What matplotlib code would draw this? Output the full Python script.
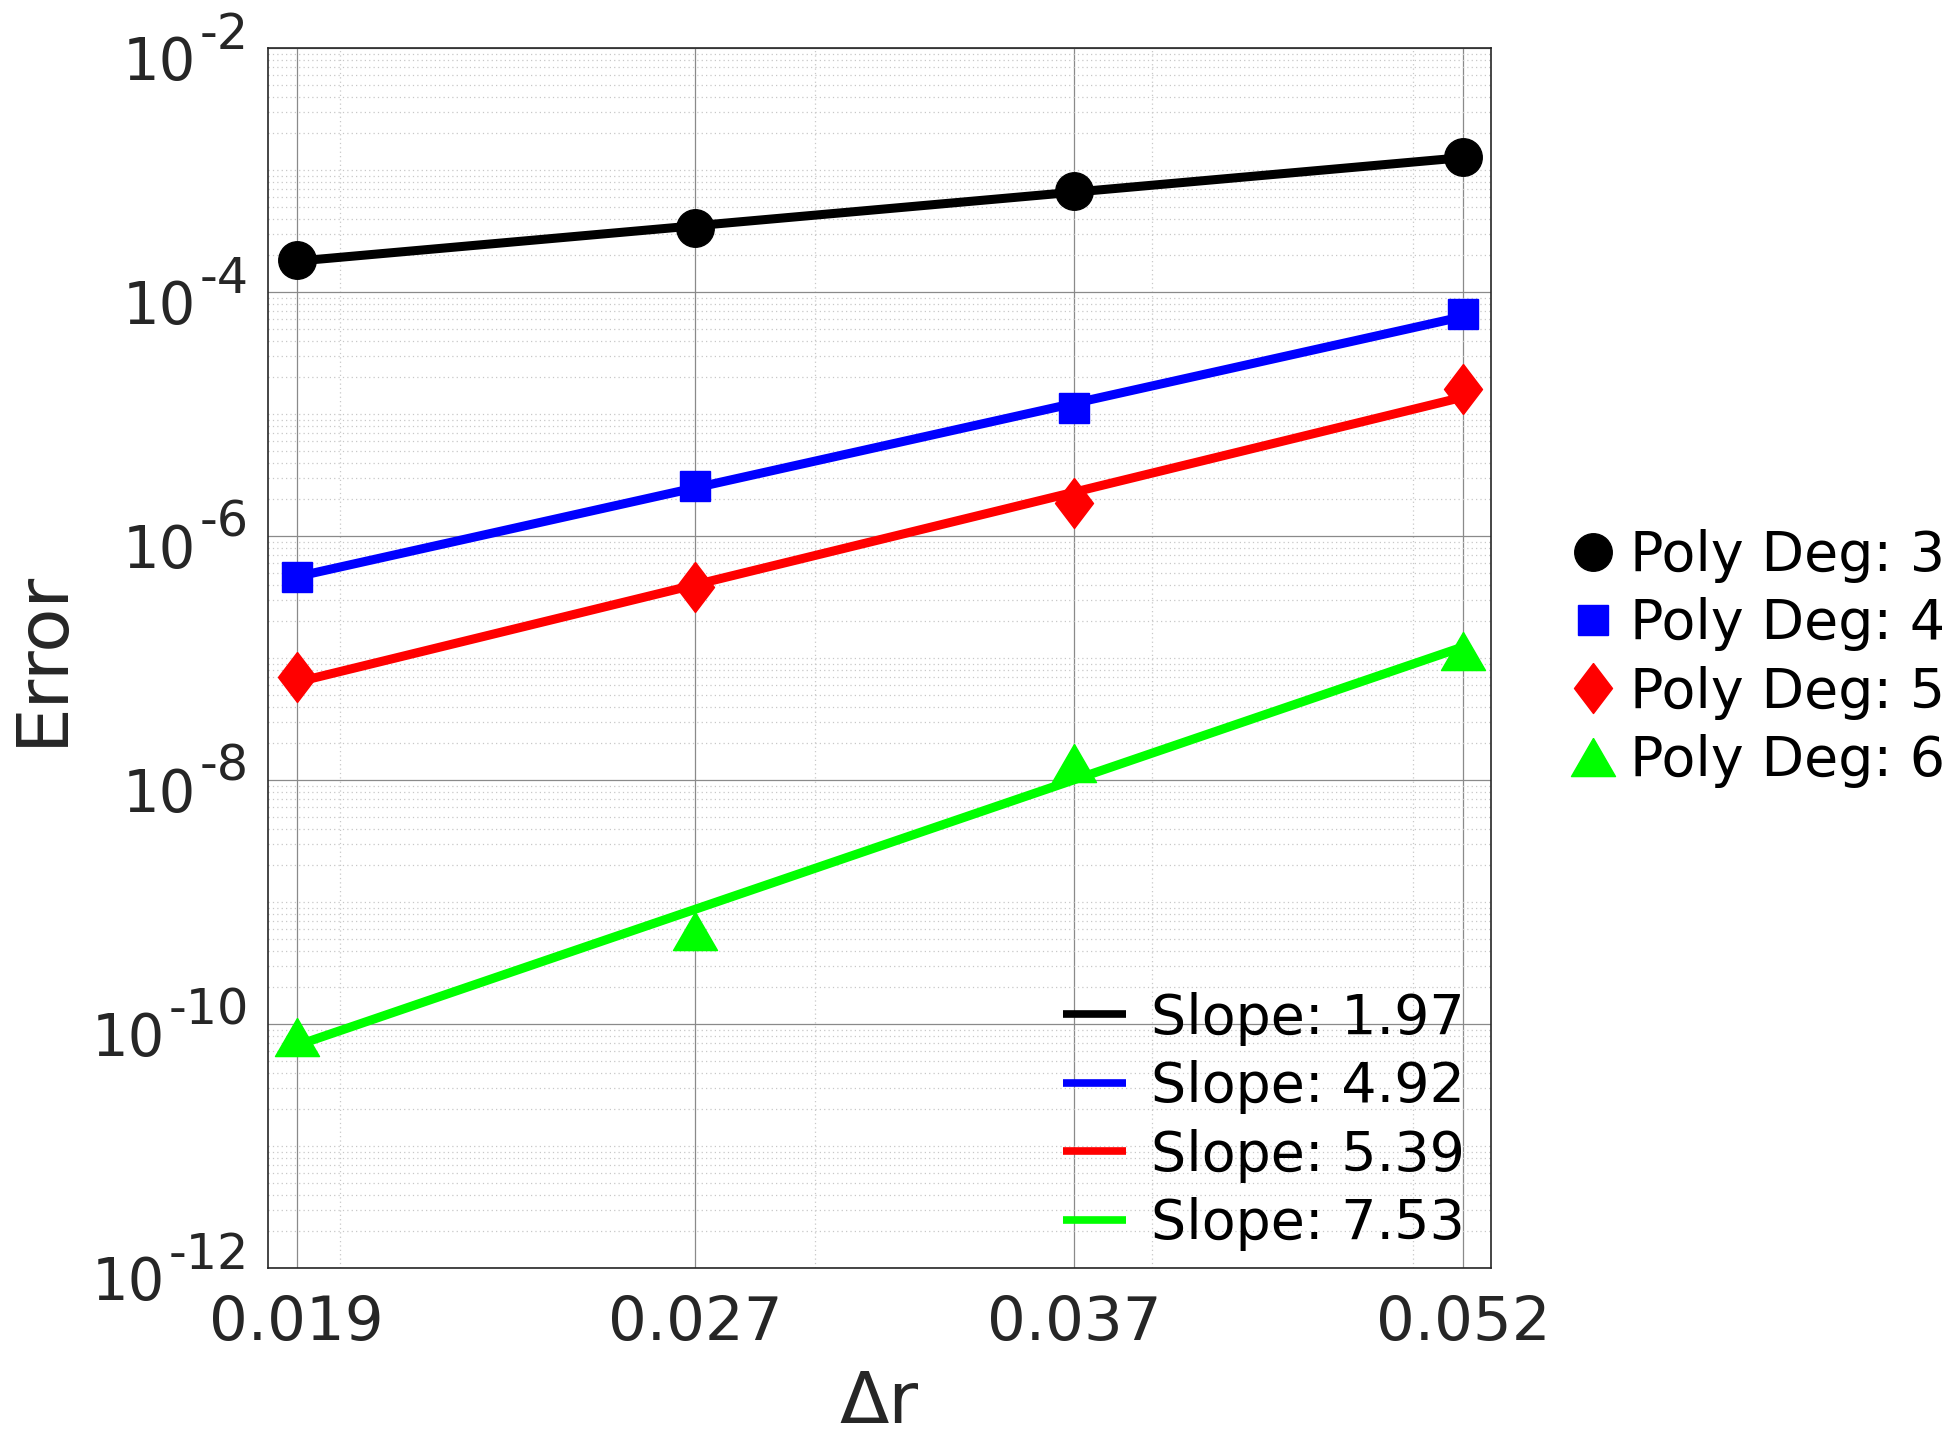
import numpy as np
import matplotlib
matplotlib.use("Agg")
import matplotlib.pyplot as plt
from matplotlib.lines import Line2D
from matplotlib.ticker import FixedLocator, FixedFormatter, NullFormatter

# ---- data ----
dr = [0.01927, 0.02708, 0.03743, 0.05218]
x_tick_labels = ["0.019", "0.027", "0.037", "0.052"]
err_deg3 = [1.83e-4, 3.35e-4, 6.67e-4, 1.27e-3]
err_deg4 = [4.65e-7, 2.57e-6, 1.13e-5, 6.55e-5]
err_deg5 = [6.95e-8, 3.82e-7, 1.88e-6, 1.59e-5]
err_deg6 = [7.82e-11, 5.83e-10, 1.37e-8, 1.15e-7]
deg_labels = ["Poly Deg: 3", "Poly Deg: 4", "Poly Deg: 5", "Poly Deg: 6"]
slope_labels = ["Slope: 1.97", "Slope: 4.92", "Slope: 5.39", "Slope: 7.53"]
y_tick_exponents = [-12, -10, -8, -6, -4, -2]

# ---- styles ----
colors = ["#000000", "#0000FF", "#FF0000", "#00FF00"]
diamond = [(0, 1), (0.76, 0), (0, -1), (-0.76, 0), (0, 1)]
triangle = [(0, 0.866), (1, -0.866), (-1, -0.866), (0, 0.866)]
markers = ["o", "s", diamond, triangle]
msizes = [27, 21.6, 36, 31.7]
txt_col = "#262626"

plt.rcParams['font.family'] = ['DejaVu Sans']

W, H = 1958, 1446
fig = plt.figure(figsize=(W / 100, H / 100), dpi=100)
ax = fig.add_axes([268 / W, 1 - 1268 / H, (1491 - 268) / W, (1268 - 48) / H])
ax.set_xscale('log')
ax.set_yscale('log')

series = [err_deg3, err_deg4, err_deg5, err_deg6]
lx = np.log10(dr)
marker_handles, line_handles = [], []
for err, c, m, ms in zip(series, colors, markers, msizes):
    h, = ax.plot(dr, err, linestyle='none', marker=m, markersize=ms,
                 color=c, markerfacecolor=c, markeredgecolor=c, zorder=3)
    marker_handles.append(h)
    p = np.polyfit(lx, np.log10(err), 1)
    xs = np.array([dr[0], dr[-1]])
    ax.plot(xs, 10 ** np.polyval(p, np.log10(xs)), color=c, lw=6.5,
            solid_capstyle='butt', zorder=4)
    line_handles.append(Line2D([], [], color=c, lw=5.5, solid_capstyle='butt'))

ax.set_xlim(0.018806, 0.053436)
ax.set_ylim(1e-12, 1e-2)

ax.xaxis.set_major_locator(FixedLocator(dr))
ax.xaxis.set_major_formatter(FixedFormatter(x_tick_labels))
ax.xaxis.set_minor_locator(FixedLocator([0.02, 0.03, 0.04, 0.05]))
ax.xaxis.set_minor_formatter(NullFormatter())

ax.yaxis.set_major_locator(FixedLocator([10.0 ** e for e in y_tick_exponents]))
ax.yaxis.set_major_formatter(NullFormatter())
minor_y = [k * 10.0 ** n for n in range(-12, -2) for k in range(1, 10)
           if not (k == 1 and n % 2 == 0)]
ax.yaxis.set_minor_locator(FixedLocator(minor_y))
ax.yaxis.set_minor_formatter(NullFormatter())

ax.tick_params(axis='both', which='both', length=0, colors=txt_col)
ax.tick_params(axis='x', which='major', labelsize=44, pad=19)

ax.grid(True, which='major', color='#8a8a8a', lw=0.9, ls='-')
ax.grid(True, which='minor', color='#c8c8c8', lw=0.9, ls=(0, (1, 2.5)))
ax.set_axisbelow(True)
for s in ax.spines.values():
    s.set_color('#262626')
    s.set_linewidth(1.2)

ax.set_xlabel("Δr", fontsize=52, color=txt_col, labelpad=11)
ax.set_ylabel("Error", fontsize=52, color=txt_col)
ax.yaxis.set_label_coords((77 - 268) / 1223, 0.5)

# y tick labels: "10" with a raised exponent
fig.canvas.draw()
renderer = fig.canvas.get_renderer()
for e in y_tick_exponents:
    t_exp = ax.annotate("-%d" % (-e), xy=(0, 10.0 ** e),
                        xycoords=('axes fraction', 'data'),
                        xytext=(-19, -1), textcoords='offset pixels',
                        ha='right', va='baseline', fontsize=35.5, color=txt_col)
    wexp = t_exp.get_window_extent(renderer).width
    ax.annotate("10", xy=(0, 10.0 ** e), xycoords=('axes fraction', 'data'),
                xytext=(-19 - wexp - 4, -32), textcoords='offset pixels',
                ha='right', va='baseline', fontsize=41.5, color=txt_col)

leg1 = ax.legend(marker_handles, deg_labels, loc='upper left',
                 bbox_to_anchor=(1571 / W, 1 - 529 / H), bbox_transform=fig.transFigure,
                 frameon=False, fontsize=40, handlelength=0.8, handletextpad=0.27,
                 labelspacing=0.26, borderpad=0, borderaxespad=0, numpoints=1)
for t in leg1.get_texts():
    t.set_color('black')
ax.add_artist(leg1)
leg2 = ax.legend(line_handles, slope_labels, loc='lower right',
                 bbox_to_anchor=(1465 / W, 1 - 1251 / H), bbox_transform=fig.transFigure,
                 frameon=False, fontsize=40, handlelength=1.13, handletextpad=0.45,
                 labelspacing=0.26, borderpad=0, borderaxespad=0)

fig.savefig("out.png", dpi=100, facecolor='white')
